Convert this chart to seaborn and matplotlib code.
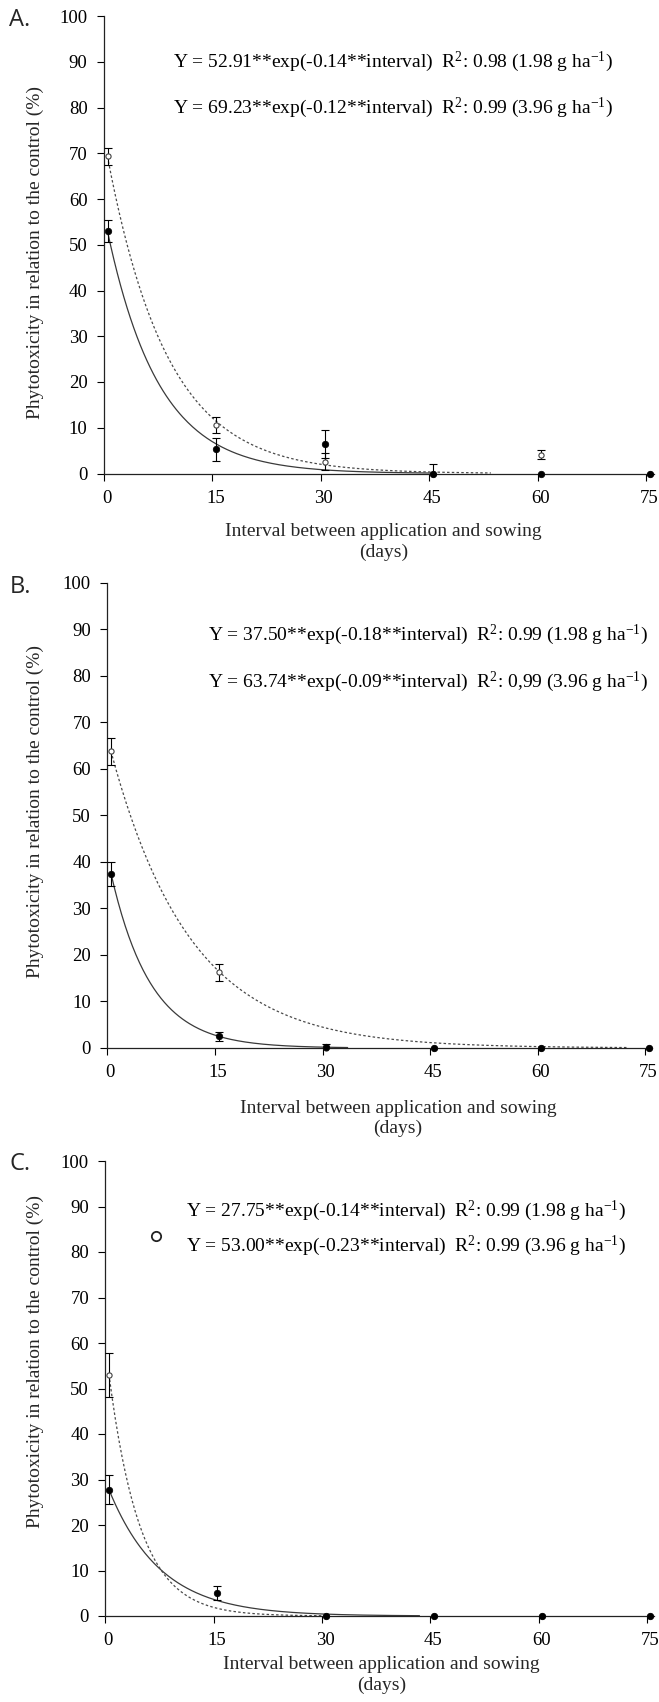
import numpy as np
import pandas as pd
import seaborn as sns
import matplotlib.pyplot as plt
from matplotlib.transforms import ScaledTranslation

sns.set_style("ticks")
SERIF = ['Liberation Serif', 'DejaVu Serif']
plt.rcParams['font.family'] = SERIF
plt.rcParams['mathtext.fontset'] = 'custom'
plt.rcParams['mathtext.rm'] = 'Liberation Serif'
plt.rcParams['mathtext.it'] = 'Liberation Serif:italic'
plt.rcParams['font.size'] = 14

# Sampling intervals (days)
DAYS = [0, 15, 30, 45, 60, 75]

# Panel A - means and error bars
a_low_mean = [53.0, 5.3, 6.4, 0.0, 0.0, 0.0]
a_low_err = [2.4, 2.5, 3.1, 2.0, 0.0, 0.0]
a_high_mean = [69.3, 10.6, 2.6, 0.0, 4.1, 0.0]
a_high_err = [1.8, 1.7, 1.8, 0.0, 1.0, 0.0]

# Panel B
b_low_mean = [37.4, 2.5, 0.2, 0.0, 0.0, 0.0]
b_low_err = [2.6, 0.9, 0.6, 0.0, 0.0, 0.0]
b_high_mean = [63.8, 16.3, 0.0, 0.0, 0.0, 0.0]
b_high_err = [2.9, 1.8, 0.0, 0.0, 0.0, 0.0]

# Panel C
c_low_mean = [27.8, 5.1, 0.0, 0.0, 0.0, 0.0]
c_low_err = [3.2, 1.5, 0.0, 0.0, 0.0, 0.0]
c_high_mean = [53.0, np.nan, 0.0, 0.0, 0.0, 0.0]
c_high_err = [4.9, 0.0, 0.0, 0.0, 0.0, 0.0]
c_stray_point = (6.5, 83.5)  # loose open-circle marker left in panel C

# Fitted models Y = a*exp(-k*interval): (1.98 g/ha, 3.96 g/ha)
a_fit_amp, a_fit_k, a_fit_end = [52.91, 69.23], [0.14, 0.12], [45, 53]
b_fit_amp, b_fit_k, b_fit_end = [37.50, 63.74], [0.18, 0.09], [33, 72]
c_fit_amp, c_fit_k, c_fit_end = [27.75, 53.00], [0.14, 0.23], [43, 30]

a_eqs = [r"Y = 52.91**exp(-0.14**interval)  R$^\mathregular{2}$: 0.98 (1.98 g ha$^\mathregular{-1}$)",
         r"Y = 69.23**exp(-0.12**interval)  R$^\mathregular{2}$: 0.99 (3.96 g ha$^\mathregular{-1}$)"]
b_eqs = [r"Y = 37.50**exp(-0.18**interval)  R$^\mathregular{2}$: 0.99 (1.98 g ha$^\mathregular{-1}$)",
         r"Y = 63.74**exp(-0.09**interval)  R$^\mathregular{2}$: 0,99 (3.96 g ha$^\mathregular{-1}$)"]
c_eqs = [r"Y = 27.75**exp(-0.14**interval)  R$^\mathregular{2}$: 0.99 (1.98 g ha$^\mathregular{-1}$)",
         r"Y = 53.00**exp(-0.23**interval)  R$^\mathregular{2}$: 0.99 (3.96 g ha$^\mathregular{-1}$)"]

YLABEL = "Phytotoxicity in relation to the control (%)"
XLABEL = "Interval between application and sowing\n(days)"

W, H = 659, 1702
fig = plt.figure(figsize=(W / 100, H / 100), dpi=100)

# letter, axes rect in px (left, top, right, bottom), data, equation x / y,
# ylabel centre (axes frac), xlabel x / top (axes frac), letter centre px
panels = [
    ("A.", (103.9, 16, 653.6, 473.5), a_low_mean, a_low_err, a_high_mean, a_high_err,
     (a_fit_amp, a_fit_k, a_fit_end), a_eqs, 9.1, (90, 80), 0.482, 0.509, -0.109, (20, 19.5)),
    ("B.", (107.4, 582.7, 652.4, 1048), b_low_mean, b_low_err, b_high_mean, b_high_err,
     (b_fit_amp, b_fit_k, b_fit_end), b_eqs, 13.5, (88.7, 78.7), 0.509, 0.533, -0.111, (21, 587)),
    ("C.", (105.4, 1161, 654.1, 1616), c_low_mean, c_low_err, c_high_mean, c_high_err,
     (c_fit_amp, c_fit_k, c_fit_end), c_eqs, 10.7, (89.1, 81.3), 0.560, 0.503, -0.089, (20, 1164)),
]

for (letter, rect, low, low_err, high, high_err, fits, eqs, eq_x, eq_y,
     ylab_y, xlab_x, xlab_y, letter_pos) in panels:
    l, t, r, b = rect
    ax = fig.add_axes([l / W, 1 - b / H, (r - l) / W, (b - t) / H])

    # fitted curves
    styles = ['-', (0, (2.0, 1.8))]
    colors = ['#3a3a3a', '#4a4a4a']
    for amp, k, end, ls, col in zip(*fits, styles, colors):
        xs = np.linspace(0, end, 200)
        curve = pd.DataFrame({'day': xs, 'value': amp * np.exp(-k * xs)})
        sns.lineplot(data=curve, x='day', y='value', ax=ax, color=col,
                     lw=0.9, linestyle=ls, zorder=2)

    # error bars
    for mean, err in [(high, high_err), (low, low_err)]:
        d = pd.DataFrame({'day': DAYS, 'mean': mean, 'err': err})
        d = d[(d['err'] > 0) & d['mean'].notna()]
        ax.errorbar(d['day'], d['mean'], yerr=d['err'], fmt='none', ecolor='black',
                    elinewidth=0.8, capsize=2.7, capthick=0.8, zorder=3)

    # points
    sns.scatterplot(x=DAYS, y=high, ax=ax, marker='o', s=14, facecolor='white',
                    edgecolor='#404040', linewidth=0.8, clip_on=False, zorder=4)
    sns.scatterplot(x=DAYS, y=low, ax=ax, marker='o', s=22, color='black',
                    edgecolor='black', linewidth=0.5, clip_on=False, zorder=5)

    if letter == "C.":
        sns.scatterplot(x=[c_stray_point[0]], y=[c_stray_point[1]], ax=ax, marker='o',
                        s=45, facecolor='white', edgecolor='#222222', linewidth=1.3, zorder=5)

    for txt, yv in zip(eqs, eq_y):
        ax.text(eq_x, yv, txt, ha='left', va='center', fontsize=14, color='black',
                family=SERIF)

    ax.set_xlim(-0.5, 75.5)
    ax.set_ylim(0, 100)
    # tick marks sit on the axis grid (half a day left of the points, as in the source)
    ax.set_xticks([d - 0.5 for d in DAYS], [str(d) for d in DAYS])
    ax.set_yticks(range(0, 101, 10))
    sns.despine(ax=ax)
    for sp in ['left', 'bottom']:
        ax.spines[sp].set_linewidth(0.9)
        ax.spines[sp].set_color('#222222')
    ax.tick_params(direction='out', length=4.8, width=0.8, pad=7, labelsize=13.5,
                   colors='black', labelfontfamily='Liberation Serif')
    shift = ScaledTranslation(3 / 100, 0, fig.dpi_scale_trans)
    for lab in ax.get_xticklabels():
        lab.set_transform(lab.get_transform() + shift)

    ax.set_ylabel(YLABEL, fontsize=14, family=SERIF)
    ax.yaxis.label.set_verticalalignment('center')
    ax.yaxis.set_label_coords((35 - l) / (r - l), ylab_y)

    ax.set_xlabel(XLABEL, fontsize=14, linespacing=1.25, family=SERIF)
    ax.xaxis.label.set_verticalalignment('top')
    ax.xaxis.set_label_coords(xlab_x, xlab_y)

    fig.text(letter_pos[0] / W, 1 - letter_pos[1] / H, letter, family='Open Sans',
             fontsize=17, ha='center', va='center')

fig.savefig('out.png', dpi=100)
